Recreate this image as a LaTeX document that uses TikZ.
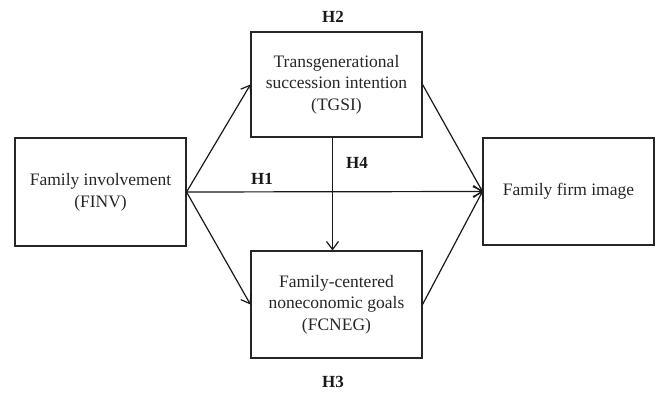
\documentclass[tikz,border=0pt]{standalone}
\usepackage{fontspec}
\setmainfont{Liberation Serif}
\usetikzlibrary{arrows.meta}
\begin{document}
\begin{tikzpicture}[x=1pt,y=-1pt,
  boxnode/.style={draw=black!85, line width=1.1pt, minimum width=171pt, align=center, inner sep=0pt,
    font=\fontsize{17.5}{21.7}\selectfont, text=black!85},
  hlabel/.style={font=\fontsize{17}{20}\selectfont\bfseries, text=black!90},
  conn/.style={line width=1.2pt, draw=black!90, -{Straight Barb[length=8pt,width=12pt,line width=1.2pt]}}]
\useasboundingbox (0,0) rectangle (657,395);
\node[boxnode, minimum height=108pt] (fi) at (100.5,192) {Family involvement\\(FINV)};
\node[boxnode, minimum height=105pt] (tg) at (336.5,84.5) {Transgenerational\\succession intention\\(TGSI)};
\node[boxnode, minimum height=107pt] (fc) at (336.5,304.5) {Family-centered\\noneconomic goals\\(FCNEG)};
\node[boxnode, minimum height=107pt] (ff) at (568.5,191.5) {Family firm image};
\draw[conn] (fi.east) -- (tg.west);
\draw[conn] (fi.east) -- (fc.west);
\draw[conn] (fi.east) -- (ff.west);
\draw[conn] (tg.east) -- (ff.west);
\draw[conn] (fc.east) -- (ff.west);
\draw[conn] ([xshift=-4pt]tg.south) -- ([xshift=-4pt]fc.north);
\node[hlabel] (h2) at (333,17) {H2};
\node[hlabel] (h1) at (262,179) {H1};
\node[hlabel] (h4) at (357,163) {H4};
\node[hlabel] (h3) at (333,382) {H3};
\end{tikzpicture}
\end{document}
